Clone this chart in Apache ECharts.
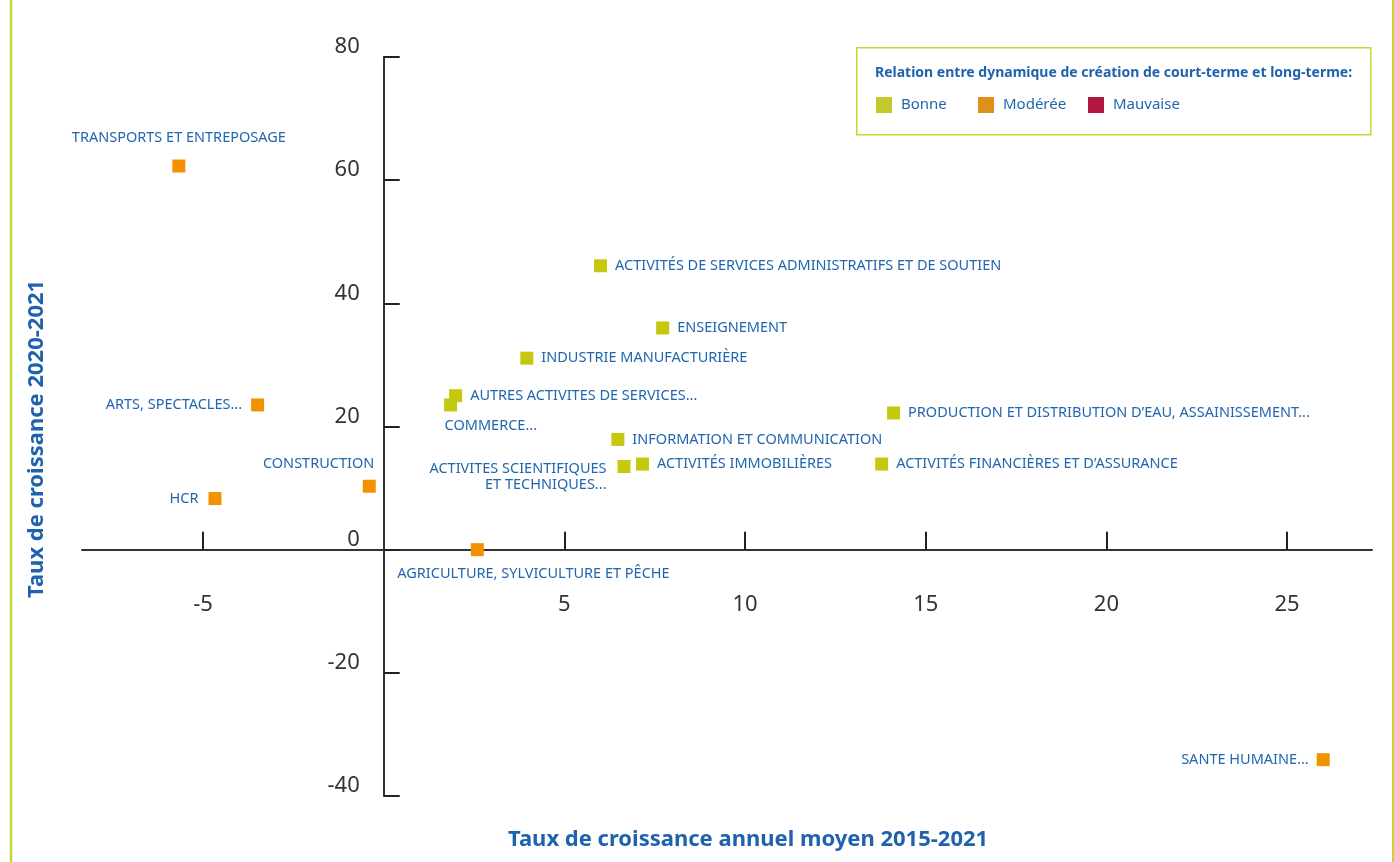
<!DOCTYPE html>
<html>
<head>
<meta charset="utf-8">
<script src="https://cdn.jsdelivr.net/npm/echarts@6/dist/echarts.min.js"></script>
<style>
  html, body { margin: 0; padding: 0; background: #fff; }
  #chart { width: 1394px; height: 862px; }
</style>
</head>
<body>
<div id="chart"></div>
<script>
// secteurs, taux annuel moyen 2015-2021 (x) et taux 2020-2021 (y)
const sectors = [
  "TRANSPORTS ET ENTREPOSAGE",
  "ARTS, SPECTACLES...",
  "HCR",
  "CONSTRUCTION",
  "AGRICULTURE, SYLVICULTURE ET PÊCHE",
  "COMMERCE...",
  "AUTRES ACTIVITES DE SERVICES...",
  "ACTIVITES SCIENTIFIQUES\nET TECHNIQUES...",
  "INFORMATION ET COMMUNICATION",
  "ACTIVITÉS IMMOBILIÈRES",
  "ACTIVITÉS FINANCIÈRES ET D’ASSURANCE",
  "PRODUCTION ET DISTRIBUTION D’EAU, ASSAINISSEMENT...",
  "ACTIVITÉS DE SERVICES ADMINISTRATIFS ET DE SOUTIEN",
  "ENSEIGNEMENT",
  "INDUSTRIE MANUFACTURIÈRE",
  "SANTE HUMAINE..."
];
const growthLong = [-5.67, -3.49, -4.67, -0.4, 2.59, 1.85, 1.99, 6.65, 6.48, 7.16, 13.78, 14.11, 6.0, 7.72, 3.96, 26.0];
const growthShort = [62.3, 23.5, 8.3, 10.3, 0.0, 23.5, 25.0, 13.5, 17.9, 13.9, 13.9, 22.2, 46.1, 36.0, 31.1, -34.1];
const relation = ["Modérée", "Modérée", "Modérée", "Modérée", "Modérée", "Bonne", "Bonne", "Bonne",
  "Bonne", "Bonne", "Bonne", "Bonne", "Bonne", "Bonne", "Bonne", "Modérée"];
const relations = ["Bonne", "Modérée", "Mauvaise"];
const xTicks = [-5, 5, 10, 15, 20, 25];

// couleurs
const pointColors = { "Bonne": "#c4c90f", "Modérée": "#f39200", "Mauvaise": "#b0163f" };
const legendColors = { "Bonne": "#c6c92b", "Modérée": "#de8f1c", "Mauvaise": "#b0163f" };
const blue = "#2266b0";
const titleBlue = "#1f62ad";
const font = "Noto Sans";

// placement des étiquettes (style uniquement)
const labelPlace = {
  "TRANSPORTS ET ENTREPOSAGE": { position: "top", distance: 14 },
  "ARTS, SPECTACLES...": { position: "left", distance: 9 },
  "HCR": { position: "left", distance: 10 },
  "CONSTRUCTION": { position: "top", align: "right", distance: 8, offset: [5, 0] },
  "AGRICULTURE, SYLVICULTURE ET PÊCHE": { position: "bottom", align: "left", distance: 10, offset: [-80, 0] },
  "COMMERCE...": { position: "bottom", align: "left", distance: 6, offset: [-6, 0] },
  "ACTIVITES SCIENTIFIQUES\nET TECHNIQUES...": { position: "left", distance: 11, offset: [0, 10] },
  "SANTE HUMAINE...": { position: "left", distance: 8 }
};

// grille et croisement des axes en (0, 0)
const grid = { left: 82, right: 22, top: 57, bottom: 66 };
const xMin = -8.35, xMax = 27.35, yMin = -40, yMax = 80;
const plotW = 1394 - grid.left - grid.right;
const plotH = 862 - grid.top - grid.bottom;
const yAxisShift = (0 - xMin) / (xMax - xMin) * plotW;
const xAxisShift = (0 - yMin) / (yMax - yMin) * plotH;

const series = relations.map(function (rel) {
  const data = [];
  sectors.forEach(function (name, i) {
    if (relation[i] !== rel) return;
    data.push({
      name: name,
      value: [growthLong[i], growthShort[i]],
      label: labelPlace[name] || { position: "right", distance: 8 }
    });
  });
  return {
    name: rel,
    type: "scatter",
    symbol: "rect",
    symbolSize: 13,
    itemStyle: { color: pointColors[rel], opacity: 1 },
    label: {
      show: true,
      formatter: "{b}",
      color: blue,
      fontFamily: font,
      fontSize: 14.5,
      lineHeight: 16
    },
    emphasis: { disabled: true },
    data: data
  };
});

const legendLeft = [876, 978, 1088];
const legends = relations.map(function (rel, i) {
  return {
    data: [{ name: rel, itemStyle: { color: legendColors[rel], opacity: 1 } }],
    left: legendLeft[i],
    top: 97,
    padding: 0,
    icon: "rect",
    itemWidth: 16,
    itemHeight: 16,
    selectedMode: false,
    textStyle: { color: blue, fontFamily: font, fontSize: 15, padding: [0, 0, 0, 4] }
  };
});

const myChart = echarts.init(document.getElementById("chart"));
myChart.setOption({
  animation: false,
  grid: grid,
  legend: legends,
  xAxis: {
    type: "value",
    min: xMin,
    max: xMax,
    offset: -xAxisShift,
    splitLine: { show: false },
    axisLine: { onZero: false, lineStyle: { color: "#333", width: 2 } },
    axisTick: { inside: true, length: 18, customValues: xTicks, lineStyle: { color: "#222", width: 2 } },
    axisLabel: { customValues: xTicks, margin: 44, color: "#333", fontFamily: font, fontSize: 22 }
  },
  yAxis: {
    type: "value",
    min: yMin,
    max: yMax,
    interval: 20,
    offset: -yAxisShift,
    splitLine: { show: false },
    axisLine: { onZero: false, lineStyle: { color: "#333", width: 2 } },
    axisTick: { inside: true, length: 16, lineStyle: { color: "#222", width: 2 } },
    axisLabel: {
      margin: 24, verticalAlign: "bottom", lineHeight: 20,
      color: "#333", fontFamily: font, fontSize: 22
    }
  },
  graphic: [
    { type: "line", shape: { x1: 11, y1: 0, x2: 11, y2: 862 }, style: { stroke: "#c8d436", lineWidth: 2.5 } },
    { type: "line", shape: { x1: 1393, y1: 0, x2: 1393, y2: 862 }, style: { stroke: "#c8d436", lineWidth: 2 } },
    {
      type: "rect", left: 856, top: 47, z: -1,
      shape: { width: 514, height: 87 },
      style: { fill: "#fff", stroke: "#c8d436", lineWidth: 1.5 }
    },
    {
      type: "text", left: 875, top: 66,
      style: {
        text: "Relation entre dynamique de création de court-terme et long-terme:",
        fill: titleBlue, font: "bold 14px '" + font + "'"
      }
    },
    {
      type: "text", left: 508, top: 829,
      style: {
        text: "Taux de croissance annuel moyen 2015-2021",
        fill: titleBlue, font: "bold 22px '" + font + "'"
      }
    },
    {
      type: "text", x: 26, y: 598, rotation: Math.PI / 2,
      style: {
        text: "Taux de croissance 2020-2021",
        fill: titleBlue, font: "bold 22px '" + font + "'"
      }
    }
  ],
  series: series
});
</script>
</body>
</html>
